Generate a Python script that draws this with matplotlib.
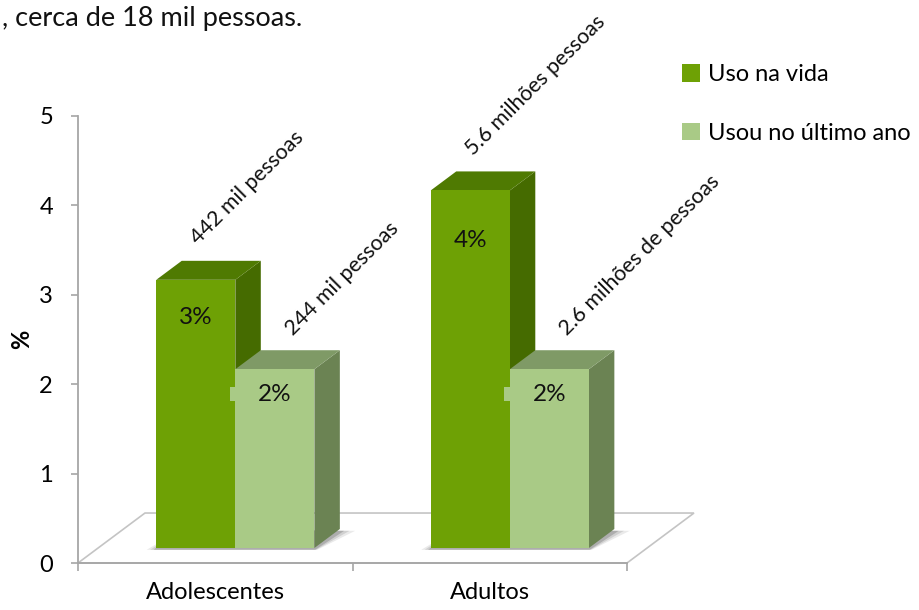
import numpy as np
import matplotlib.pyplot as plt
from matplotlib.patches import Polygon, Patch, Rectangle

plt.rcParams['font.family'] = ['Lato', 'DejaVu Sans']

# dados
grupos = ['Adolescentes', 'Adultos']
series = ['Uso na vida', 'Usou no último ano']
uso_vida = [3, 4]
ultimo_ano = [2, 2]
rotulos_vida = ['442 mil pessoas', '5.6 milhões pessoas']
rotulos_ano = ['244 mil pessoas', '2.6 milhões de pessoas']

# cores (frente, topo, lado)
cor_vida = ('#6EA105', '#4F7A02', '#456B00')
cor_ano = ('#A9CA86', '#7F9A66', '#6B8353')

# profundidade do "3D"
DX, DY = 0.244, 0.559     # deslocamento do piso inteiro
d0, d1 = 0.30, 0.68        # faixa de profundidade das barras
largura = 0.288

fig = plt.figure(figsize=(9.19, 6.10), dpi=100)
fig.patch.set_facecolor('white')
ax = fig.add_axes([78 / 919, 47 / 610, 549 / 919, 447 / 610])
ax.set_xlim(0, 2)
ax.set_ylim(0, 5)

cinza = '#A6A6A6'

# piso
piso = Polygon([(0, 0), (2, 0), (2 + DX, DY), (DX, DY)], closed=True,
               facecolor='white', edgecolor='#C4C4C4', lw=1.2, clip_on=False, zorder=1)
ax.add_patch(piso)


def sombra(x0, w):
    # sombra suave debaixo das barras
    for k, a in zip([0.035, 0.022, 0.01], [0.10, 0.14, 0.22]):
        pts = [(x0 + d0 * DX - k, d0 * DY - 0.02),
               (x0 + w + d0 * DX + k * 0.3, d0 * DY - 0.02),
               (x0 + w + d1 * DX + k * 1.6, d1 * DY - 0.02),
               (x0 + d1 * DX, d1 * DY)]
        ax.add_patch(Polygon(pts, closed=True, facecolor='#333333', edgecolor='none',
                             alpha=a, clip_on=False, zorder=2))


def barra(x0, w, v, cores):
    frente, topo, lado = cores
    f = [(x0 + d0 * DX, d0 * DY), (x0 + w + d0 * DX, d0 * DY),
         (x0 + w + d0 * DX, v + d0 * DY), (x0 + d0 * DX, v + d0 * DY)]
    t = [(x0 + d0 * DX, v + d0 * DY), (x0 + w + d0 * DX, v + d0 * DY),
         (x0 + w + d1 * DX, v + d1 * DY), (x0 + d1 * DX, v + d1 * DY)]
    s = [(x0 + w + d0 * DX, d0 * DY), (x0 + w + d1 * DX, d1 * DY),
         (x0 + w + d1 * DX, v + d1 * DY), (x0 + w + d0 * DX, v + d0 * DY)]
    for pts, c in [(s, lado), (t, topo), (f, frente)]:
        ax.add_patch(Polygon(pts, closed=True, facecolor=c, edgecolor='none',
                             clip_on=False, zorder=3))


for i, g in enumerate(grupos):
    centro = i + 0.5
    xa = centro - largura
    xb = centro
    sombra(xa, 2 * largura)
    barra(xa, largura, uso_vida[i], cor_vida)
    barra(xb, largura, ultimo_ano[i], cor_ano)

    for x0, v, txt, desl in [(xa, uso_vida[i], rotulos_vida[i], (2, 25)),
                             (xb, ultimo_ano[i], rotulos_ano[i], (13, 24))]:
        cx = x0 + largura / 2 + d0 * DX
        topo_y = v + d0 * DY
        # rótulo de porcentagem dentro da barra
        ax.text(cx, 0.86 * v + d0 * DY, f'{v}%', ha='center', va='center',
                fontsize=17.5, color='#111111', zorder=5)
        # rótulo inclinado com o número de pessoas
        ax.annotate(txt, (cx, topo_y), xytext=desl, textcoords='offset points',
                    rotation=45, rotation_mode='anchor', ha='left', va='baseline',
                    fontsize=15.5, color='#111111', annotation_clip=False, zorder=5)

    # pequena caixa do rótulo "2%" sobre a borda da barra escura
    yl = 0.86 * ultimo_ano[i] + d0 * DY
    ax.add_patch(Rectangle((xb + d0 * DX - 0.02, yl - 0.08), 0.03, 0.16,
                           facecolor=cor_ano[0], edgecolor='none', zorder=4))

# eixos
for lado in ['top', 'right']:
    ax.spines[lado].set_visible(False)
ax.spines['left'].set_color(cinza)
ax.spines['bottom'].set_color(cinza)
ax.spines['left'].set_linewidth(1.3)
ax.spines['bottom'].set_linewidth(1.3)
ax.set_facecolor('none')

ax.set_yticks(range(0, 6))
ax.tick_params(axis='y', length=5, width=1.2, color=cinza, labelsize=17, pad=13)
ax.set_xticks([0, 1, 2])
ax.set_xticklabels(['', '', ''])
ax.set_xticks([0.5, 1.5], minor=True)
ax.set_xticklabels(grupos, minor=True)
ax.tick_params(axis='x', which='major', length=6, width=1.2, color=cinza, direction='out')
ax.tick_params(axis='x', which='minor', length=0, labelsize=17, pad=14)
ax.set_ylabel('%', fontsize=17, fontweight='bold', labelpad=4)

# legenda
handles = [Patch(facecolor=cor_vida[0]), Patch(facecolor=cor_ano[0])]
fig.legend(handles, series, loc='upper left', bbox_to_anchor=(661 / 919, 1 - 43 / 610),
           frameon=False, fontsize=17, handlelength=0.75, handleheight=0.75,
           handletextpad=0.35, labelspacing=1.6)

fig.text(0.002, 1 - 26 / 610, ', cerca de 18 mil pessoas.', fontsize=19.5,
         va='baseline', ha='left', color='#111111')

fig.savefig('out.png', dpi=100)
